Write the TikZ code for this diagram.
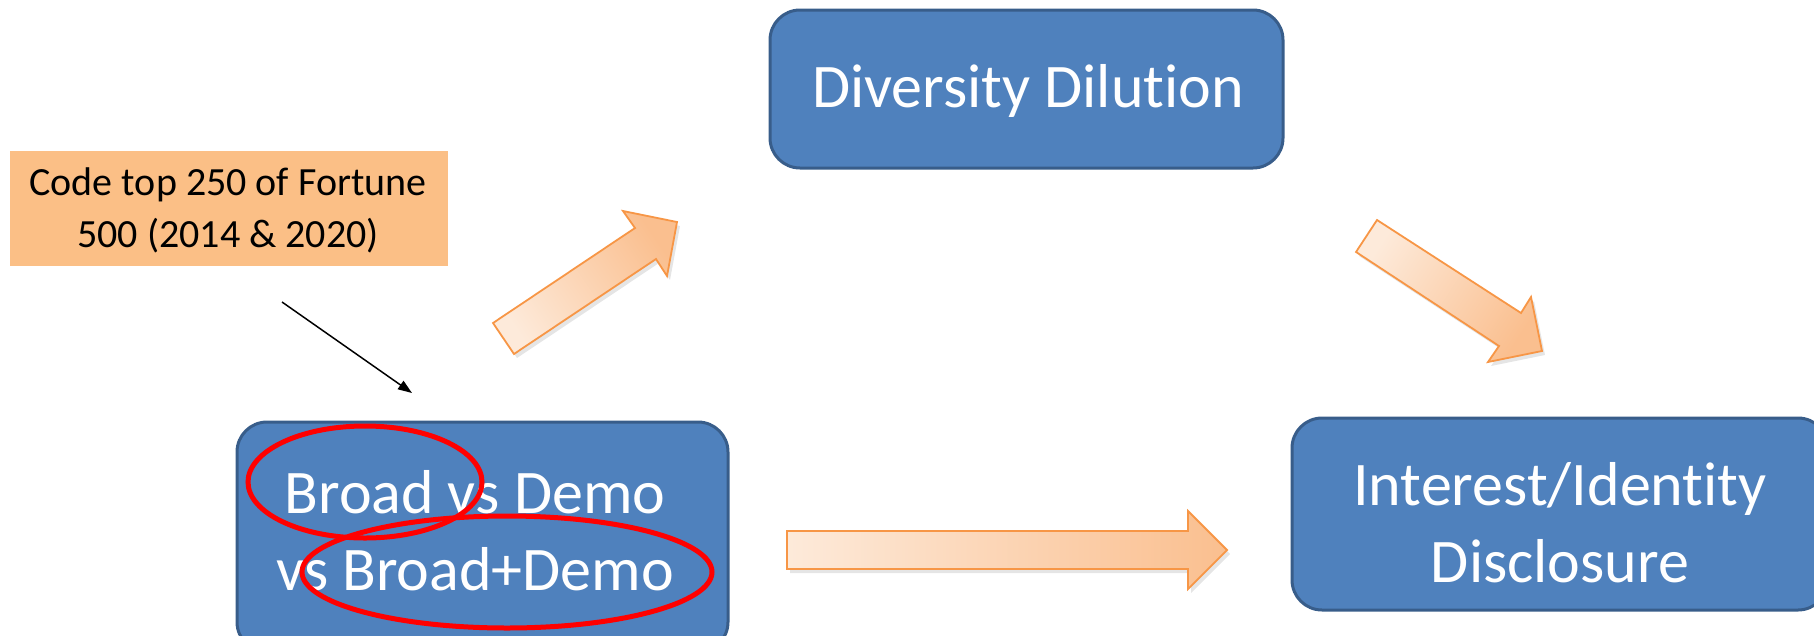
\documentclass[tikz,border=0pt]{standalone}
\usepackage{fontspec}
\setmainfont{Carlito}[Ligatures={NoCommon,NoContextual}]
\usetikzlibrary{arrows.meta}
\definecolor{boxblue}{HTML}{4F81BD}
\definecolor{boxedge}{HTML}{385D8A}
\definecolor{notefill}{HTML}{FBBF86}
\definecolor{arrowedge}{HTML}{F79646}
\definecolor{arrowlight}{HTML}{FDEADA}
\definecolor{arrowdark}{HTML}{FABF8F}
\begin{document}
\begin{tikzpicture}[x=1pt,y=-1pt,
  factor/.style={draw=boxedge, line width=3pt, fill=boxblue, rounded corners=30pt, inner sep=0pt},
  factortext/.style={text=white, font=\fontsize{62}{77}\selectfont, align=center, inner sep=0pt},
  notebox/.style={fill=notefill, inner sep=0pt},
  notetext/.style={font=\fontsize{40}{52}\selectfont, align=center, inner sep=0pt},
  blockarrow/.style={draw=arrowedge, line width=1.8pt, line join=miter, shading=axis,
    bottom color=arrowlight, top color=arrowdark},
  arrowshadow/.style={fill=black, opacity=0.10},
  circled/.style={draw=red, line width=5pt},
  pointer/.style={line width=1.5pt, -{Triangle[length=14pt,width=10pt]}}]
\useasboundingbox (0,0) rectangle (1814,635);
\clip (0,0) rectangle (1814,635);

% boxes
\node[factor, minimum width=513pt, minimum height=158pt] (div) at (1026.5,89) {};
\node[factortext, anchor=base] (divtxt) at (1028,107) {Diversity Dilution};
\node[factor, minimum width=491pt, minimum height=230pt] (broad) at (482.5,537) {};
\node[factortext, anchor=base] (broadtxt) at (475,590) {Broad vs Demo\\vs Broad+Demo};
\node[factor, minimum width=536pt, minimum height=192pt] (interest) at (1560,514) {};
\node[factortext, anchor=base] (interesttxt) at (1560,582) {Interest/Identity\\Disclosure};

% coding note
\node[notebox, minimum width=438pt, minimum height=115pt] (note) at (229,208.5) {};
\node[notetext, anchor=base] (notetxt) at (228,247) {Code top 250 of Fortune\\500 (2014 \& 2020)};

% pointer to the comparison box
\coordinate (ptrfrom) at (282,302);
\coordinate (ptrto) at (412,393);
\draw[pointer] (ptrfrom) -- (ptrto);

% block arrows: shadow first, then the shaded arrow
\fill[arrowshadow, shift={(3,4)}] (493,323) -- (514,354) -- (656,259) -- (667,276) -- (677,222) -- (623,211) -- (635,228) -- cycle;
\path[blockarrow, shading angle=-56] (493,323) -- (514,354) -- (656,259) -- (667,276) -- (677,222) -- (623,211) -- (635,228) -- cycle;

\fill[arrowshadow, shift={(3,4)}] (1377,220) -- (1356,252) -- (1499,346) -- (1488,362) -- (1542,351) -- (1531,297) -- (1521,313) -- cycle;
\path[blockarrow, shading angle=-123] (1377,220) -- (1356,252) -- (1499,346) -- (1488,362) -- (1542,351) -- (1531,297) -- (1521,313) -- cycle;

\fill[arrowshadow, shift={(3,4)}] (787,531) -- (1188,531) -- (1188,511) -- (1227,550) -- (1188,589) -- (1188,569) -- (787,569) -- cycle;
\path[blockarrow, shading angle=-90] (787,531) -- (1188,531) -- (1188,511) -- (1227,550) -- (1188,589) -- (1188,569) -- (787,569) -- cycle;

% red highlights
\draw[circled] (365,482) ellipse [x radius=117, y radius=56];
\draw[circled] (507,572) ellipse [x radius=205, y radius=56];
\end{tikzpicture}
\end{document}
